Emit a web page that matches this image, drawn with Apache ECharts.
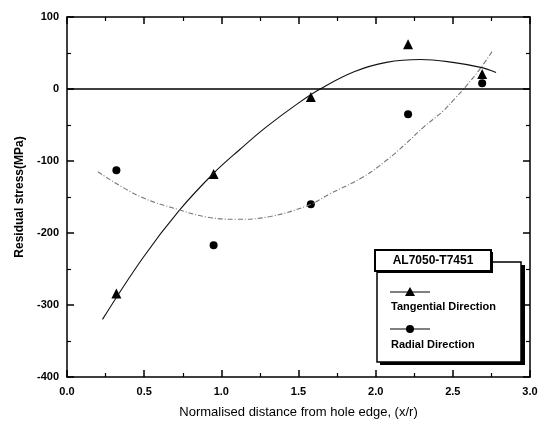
<!DOCTYPE html>
<html>
<head>
<meta charset="utf-8">
<script src="https://cdn.jsdelivr.net/npm/echarts@6/dist/echarts.min.js"></script>
<style>
html,body{margin:0;padding:0;background:#fff;}
#chart{width:544px;height:425px;}
</style>
</head>
<body>
<div id="chart"></div>
<script>
// Measured points
var xPositions = [0.32, 0.95, 1.58, 2.21, 2.69];
var tangentialStress = [-284, -118, -11, 62, 21];
var radialStress = [-113, -217, -160, -35, 8];

// Fitted curves
var tangentialFitX = [0.23, 0.49, 0.73, 0.95, 1.12, 1.29, 1.49, 1.64, 1.86, 2.07, 2.29, 2.50, 2.68, 2.78];
var tangentialFitY = [-320, -235, -168, -117, -84, -53, -21, 0, 24, 37, 41, 37, 30, 23];
var radialFitX = [0.20, 0.47, 0.73, 0.91, 1.10, 1.32, 1.57, 1.70, 1.92, 2.07, 2.20, 2.31, 2.44, 2.51, 2.59, 2.68, 2.76];
var radialFitY = [-115, -149, -168, -178, -181, -177, -161, -146, -122, -99, -75, -53, -30, -14, 5, 29, 54];

var legendTitle = 'AL7050-T7451';
var seriesNames = ['Tangential Direction', 'Radial Direction'];
var xAxisName = 'Normalised distance from hole edge, (x/r)';
var yAxisName = 'Residual stress(MPa)';

function pairs(xs, ys){ return xs.map(function(x,i){ return [x, ys[i]]; }); }

var font = 'Arial, "Liberation Sans", sans-serif';
var chart = echarts.init(document.getElementById('chart'));

var axisCommon = {
  axisLine: {show: true, onZero: false, lineStyle: {color: '#000', width: 1.5}},
  axisTick: {show: true, inside: true, length: 7, lineStyle: {color: '#000', width: 1.5}},
  minorTick: {show: true, splitNumber: 2, length: 4, lineStyle: {color: '#000', width: 1.2}},
  splitLine: {show: false}
};

var option = {
  animation: false,
  backgroundColor: '#fff',
  grid: {left: 67, right: 14, top: 17, bottom: 48},
  xAxis: [
    Object.assign({
      type: 'value', min: 0, max: 3, interval: 0.5, position: 'bottom',
      name: xAxisName, nameLocation: 'middle', nameGap: 29,
      nameTextStyle: {fontFamily: font, fontSize: 13, color: '#000'},
      axisLabel: {fontFamily: font, fontSize: 11, fontWeight: 'bold', color: '#000', margin: 9,
        formatter: function(v){ return v.toFixed(1); }}
    }, axisCommon),
    Object.assign({
      type: 'value', min: 0, max: 3, interval: 0.5, position: 'top',
      axisLabel: {show: false}
    }, axisCommon)
  ],
  yAxis: [
    Object.assign({
      type: 'value', min: -400, max: 100, interval: 100, position: 'left',
      name: yAxisName, nameLocation: 'middle', nameGap: 40,
      nameTextStyle: {fontFamily: font, fontSize: 12, fontWeight: 'bold', color: '#000'},
      axisLabel: {fontFamily: font, fontSize: 11, fontWeight: 'bold', color: '#000', margin: 8}
    }, axisCommon),
    Object.assign({
      type: 'value', min: -400, max: 100, interval: 100, position: 'right',
      axisLabel: {show: false}
    }, axisCommon)
  ],
  series: [
    {
      name: seriesNames[0] + ' fit', type: 'line', smooth: 0.4, showSymbol: false,
      data: pairs(tangentialFitX, tangentialFitY),
      lineStyle: {color: '#111', width: 1.1},
      markLine: {
        silent: true, symbol: ['none','none'], label: {show: false},
        lineStyle: {color: '#000', width: 1.6, type: 'solid'},
        data: [{yAxis: 0}]
      }
    },
    {
      name: seriesNames[1] + ' fit', type: 'line', smooth: 0.4, showSymbol: false,
      data: pairs(radialFitX, radialFitY),
      lineStyle: {color: '#777', width: 1.1, type: [5, 2, 1, 2]}
    },
    {
      name: seriesNames[0], type: 'scatter', symbol: 'triangle', symbolSize: 10,
      data: pairs(xPositions, tangentialStress),
      itemStyle: {color: '#000', opacity: 1}
    },
    {
      name: seriesNames[1], type: 'scatter', symbol: 'circle', symbolSize: 8,
      data: pairs(xPositions, radialStress),
      itemStyle: {color: '#000', opacity: 1}
    }
  ],
  graphic: [
    // legend shadow + box
    {type: 'rect', shape: {x: 380, y: 265, width: 145, height: 100}, style: {fill: '#000'}, z: 10},
    {type: 'rect', shape: {x: 377, y: 262, width: 144, height: 100}, style: {fill: '#fff', stroke: '#000', lineWidth: 1.5}, z: 11},
    // title box
    {type: 'rect', shape: {x: 377, y: 252, width: 116, height: 21}, style: {fill: '#000'}, z: 12},
    {type: 'rect', shape: {x: 375, y: 250, width: 116, height: 21}, style: {fill: '#fff', stroke: '#000', lineWidth: 2}, z: 13},
    {type: 'text', x: 433, y: 261, z: 14, style: {text: legendTitle, fontFamily: font, fontSize: 12, fontWeight: 'bold', fill: '#000', align: 'center', verticalAlign: 'middle'}},
    // legend item 1
    {type: 'line', shape: {x1: 390, y1: 292, x2: 430, y2: 292}, style: {stroke: '#000', lineWidth: 1}, z: 14},
    {type: 'polygon', shape: {points: [[410, 287], [415, 296], [405, 296]]}, style: {fill: '#000'}, z: 14},
    {type: 'text', x: 391, y: 307, z: 14, style: {text: seriesNames[0], fontFamily: font, fontSize: 11, fontWeight: 'bold', fill: '#000', align: 'left', verticalAlign: 'middle'}},
    // legend item 2
    {type: 'line', shape: {x1: 390, y1: 329, x2: 430, y2: 329}, style: {stroke: '#000', lineWidth: 1}, z: 14},
    {type: 'circle', shape: {cx: 410, cy: 329, r: 4}, style: {fill: '#000'}, z: 14},
    {type: 'text', x: 391, y: 345, z: 14, style: {text: seriesNames[1], fontFamily: font, fontSize: 11, fontWeight: 'bold', fill: '#000', align: 'left', verticalAlign: 'middle'}}
  ]
};
chart.setOption(option);
</script>
</body>
</html>
